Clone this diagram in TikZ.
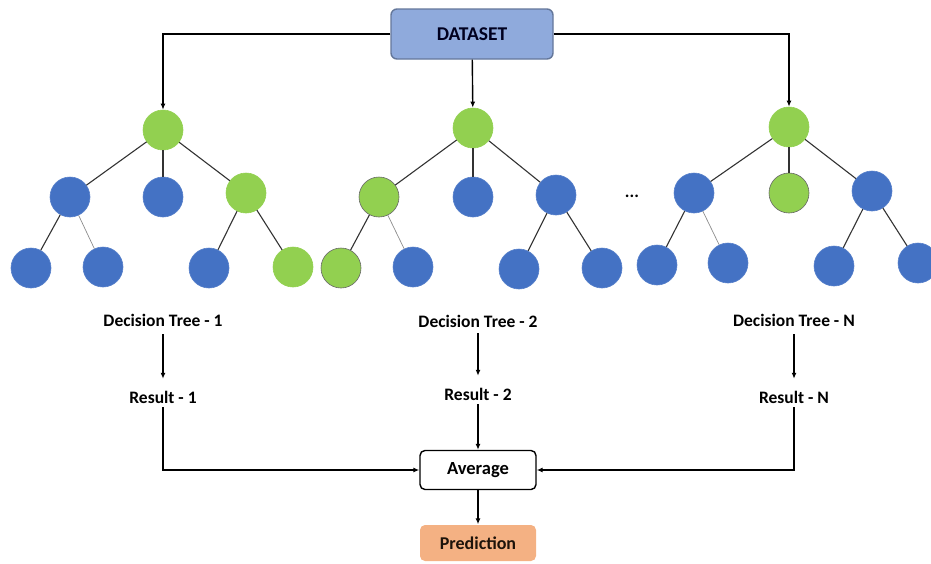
\documentclass[tikz,border=0pt]{standalone}
\usepackage{fontspec}
\setmainfont{Carlito}
\usepackage{tikz}
\usetikzlibrary{shapes.geometric,arrows.meta,calc,positioning}
\definecolor{leafblue}{HTML}{4472C4}
\definecolor{leafgreen}{HTML}{92D050}
\definecolor{boxblue}{HTML}{8FAADC}
\definecolor{boxorange}{HTML}{F4B183}

\begin{document}
\begin{tikzpicture}[x=1pt, y=-1pt, line width=1.4pt, >={Latex[length=6pt,width=5pt]},
    font=\fontsize{17.5}{19}\selectfont\bfseries]
   \useasboundingbox (0,0) rectangle (931,563);
   % tree nodes
   \begin{scope}[every node/.style={circle,minimum size=40pt,inner sep=0pt,fill=leafblue,draw=leafblue!90!white,line width=0.6pt}]
    \node (r1) [fill=leafgreen,draw=leafgreen] at (163,130) {};
    \node (a1) at (70,197) {};
    \node (b1) at (163,197) {};
    \node (c1) [fill=leafgreen,draw=leafgreen] at (246,193) {};
    \node (d1) at (31,268) {};
    \node (e1) at (103,267) {};
    \node (f1) at (209,268) {};
    \node (g1) [fill=leafgreen,draw=leafgreen] at (293,267) {};
    \node (r2) [fill=leafgreen,draw=leafgreen] at (473,128) {};
    \node (a2) [fill=leafgreen,draw=black!60] at (379,197) {};
    \node (b2) at (473,197) {};
    \node (c2) at (556,195) {};
    \node (d2) [fill=leafgreen,draw=black!60] at (341,268) {};
    \node (e2) at (413,267) {};
    \node (f2) at (519,269) {};
    \node (g2) at (602,268) {};
    \node (r3) [fill=leafgreen,draw=leafgreen] at (789,127) {};
    \node (a3) at (694,193) {};
    \node (b3) [fill=leafgreen,draw=black!60] at (789,193) {};
    \node (c3) at (872,191) {};
    \node (d3) at (657,265) {};
    \node (e3) at (728,263) {};
    \node (f3) at (834,266) {};
    \node (g3) at (918,263) {};
   \end{scope}
   \node (dots) at (632,196) {...};
   % tree edges
   \begin{scope}[every edge/.style={draw=black!80,line width=1.1pt}]
    \foreach \t in {1,2,3} {
     \draw (r\t) edge (a\t) (r\t) edge (b\t) (r\t) edge (c\t);
     \draw (a\t) edge (d\t) (a\t) edge [draw=black!45,line width=0.7pt] (e\t);
     \draw (c\t) edge (f\t) (c\t) edge (g\t);
    }
   \end{scope}
   % boxes and labels
   \node (ds) [draw=boxblue!70!black,fill=boxblue,rounded corners=6pt,minimum width=162pt,minimum height=50pt,text=black!80!blue!60!black,font=\fontsize{19.5}{21}\selectfont\bfseries] at (472,34) {DATASET};
   \node (dt1) at (163,320) {Decision Tree - 1};
   \node (dt2) at (478,321) {Decision Tree - 2};
   \node (dtN) at (794,320) {Decision Tree - N};
   \node (res1) at (163,397) {Result - 1};
   \node (res2) at (478,394) {Result - 2};
   \node (resN) at (794,397) {Result - N};
   \node (avg) [draw,fill=white,rounded corners=5pt,minimum width=116pt,minimum height=39pt,font=\fontsize{18.5}{20}\selectfont\bfseries] at (478,470) {Average};
   \node (pred) [fill=boxorange,rounded corners=5pt,minimum width=116pt,minimum height=36pt,text=black!85!brown,font=\fontsize{18}{20}\selectfont\bfseries] at (478,543) {Prediction};
   % arrows
   \begin{scope}[->]
    \draw (ds.west) -| (r1);
    \draw (ds) -- (r2);
    \draw (ds.east) -| (r3);
    \draw [shorten <=4pt,shorten >=8pt] (dt1) -- (res1);
    \draw [shorten <=2pt,shorten >=8pt] (dt2) -- (res2);
    \draw [shorten <=4pt,shorten >=8pt] (dtN) -- (resN);
    \draw (res1) |- (avg);
    \draw (res2) -- (avg);
    \draw (resN) |- (avg);
    \draw (avg) -- (pred);
   \end{scope}
\end{tikzpicture}
\end{document}
